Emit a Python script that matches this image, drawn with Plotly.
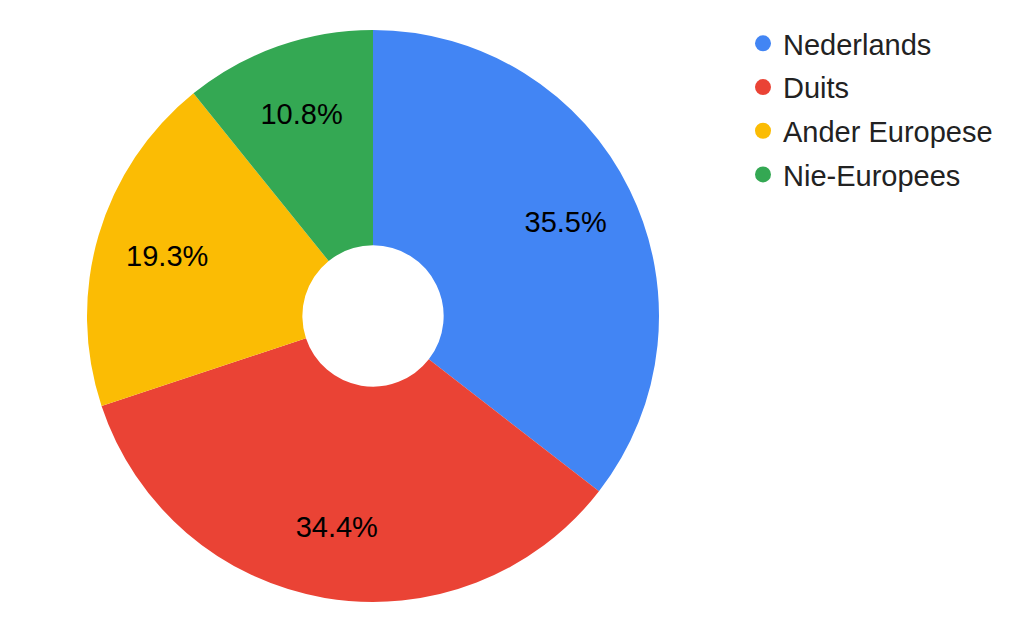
import plotly.graph_objects as go

labels = ["Nederlands", "Duits", "Ander Europese", "Nie-Europees"]
values = [35.5, 34.4, 19.3, 10.8]
colors = ["#4285F4", "#EA4335", "#FBBC04", "#34A853"]

W, H = 1023, 633
FONT = "Liberation Sans, Arial, sans-serif"
dom = dict(x=[79 / W, 651 / W], y=[0, 1])

fig = go.Figure()
# coloured donut
fig.add_trace(go.Pie(
    labels=labels, values=values, sort=False, direction="clockwise", rotation=0,
    hole=0.247, marker=dict(colors=colors, line=dict(width=0)),
    textinfo="none", showlegend=False, domain=dom, hoverinfo="label+percent",
))
# transparent overlay ring that carries the percentage labels further out
fig.add_trace(go.Pie(
    labels=labels, values=values, sort=False, direction="clockwise", rotation=0,
    hole=0.5, marker=dict(colors=["rgba(0,0,0,0)"] * 4, line=dict(width=0)),
    texttemplate="%{percent:.1%}", textposition="inside", insidetextorientation="horizontal",
    textfont=dict(family=FONT, size=29, color="#000000"),
    showlegend=False, domain=dom, hoverinfo="label+percent",
))
for lab, col in zip(labels, colors):
    fig.add_trace(go.Scatter(
        x=[None], y=[None], mode="markers", name=lab, legendgroup=lab,
        marker=dict(color=col, size=18, symbol="circle"),
    ))

fig.update_layout(
    width=W, height=H,
    margin=dict(l=0, r=0, t=22, b=39),
    paper_bgcolor="white", plot_bgcolor="white",
    xaxis=dict(visible=False), yaxis=dict(visible=False),
    legend=dict(x=735 / W, y=1.021, xanchor="left", yanchor="top",
                font=dict(family=FONT, size=29, color="#222222"),
                tracegroupgap=3, bgcolor="rgba(0,0,0,0)"),
    showlegend=True,
)
fig.write_html("out.html")
